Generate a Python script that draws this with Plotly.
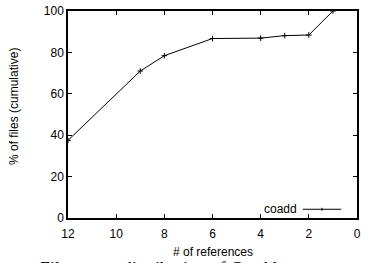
import plotly.graph_objects as go

refs = [12, 9, 8, 6, 4, 3, 2, 1]
pct = [37.5, 71.0, 78.4, 86.7, 86.9, 88.1, 88.4, 100.0]
series_name = "coadd"
x_ticks = [12, 10, 8, 6, 4, 2, 0]
y_ticks = [0, 20, 40, 60, 80, 100]

W, H = 365, 263
L, R, T, B = 68, 4, 5, 45
pw = W - L - R
ph = H - T - B

def px(x):
    return (x - L) / pw

def py(y):
    return (H - B - y) / ph

font = dict(family="Liberation Sans, Arial, sans-serif", size=12, color="black")

fig = go.Figure()
fig.add_trace(go.Scatter(
    x=refs, y=pct, mode="lines+markers", name=series_name,
    line=dict(color="black", width=1),
    marker=dict(symbol="cross-thin", size=4, line=dict(color="black", width=1), color="black"),
    showlegend=False,
))

axis_common = dict(
    showgrid=False, zeroline=False, showline=True, linecolor="black", linewidth=1.5,
    mirror="allticks", ticks="inside", ticklen=4, tickcolor="black", tickwidth=1,
    tickfont=font, ticklabeloverflow="allow",
)

fig.update_layout(
    width=W, height=H,
    margin=dict(l=L, r=R, t=T, b=B, pad=0),
    paper_bgcolor="white", plot_bgcolor="white",
    font=font,
    xaxis=dict(range=[12, 0], tickvals=x_ticks, ticklabelstandoff=4, **axis_common),
    yaxis=dict(range=[0, 100], tickvals=y_ticks, **axis_common),
)

# axis titles
fig.add_annotation(text="# of references", xref="paper", yref="paper",
                   x=px(215), y=py(253), showarrow=False, font=font,
                   xanchor="center", yanchor="middle")
fig.add_annotation(text="% of files (cumulative)", xref="paper", yref="paper",
                   x=px(13), y=py(103), showarrow=False, font=font, textangle=-90,
                   xanchor="center", yanchor="middle")

# manual legend (gnuplot style: text then sample)
fig.add_annotation(text=series_name, xref="paper", yref="paper",
                   x=px(302), y=py(209), showarrow=False, font=font,
                   xanchor="right", yanchor="middle")
fig.add_shape(type="line", xref="paper", yref="paper",
              x0=px(306), x1=px(345), y0=py(209), y1=py(209),
              line=dict(color="black", width=1))
fig.add_shape(type="line", xref="paper", yref="paper",
              x0=px(325.5), x1=px(325.5), y0=py(207.5), y1=py(210.5),
              line=dict(color="black", width=1))

# cut-off caption below the figure
fig.add_annotation(text="<b>3</b>", xref="paper", yref="paper",
                   x=px(0), y=py(257), showarrow=False,
                   font=dict(family="DejaVu Sans, sans-serif", size=20, color="black"),
                   xanchor="left", yanchor="top")
fig.add_annotation(text="File access distribution of Coadd", xref="paper", yref="paper",
                   x=px(38), y=py(258), showarrow=False,
                   font=dict(family="Liberation Serif, Times New Roman, serif", size=18, color="black"),
                   xanchor="left", yanchor="top")

fig.write_html("out.html", config={"displayModeBar": False},
               post_script="document.body.style.margin='0px';")
